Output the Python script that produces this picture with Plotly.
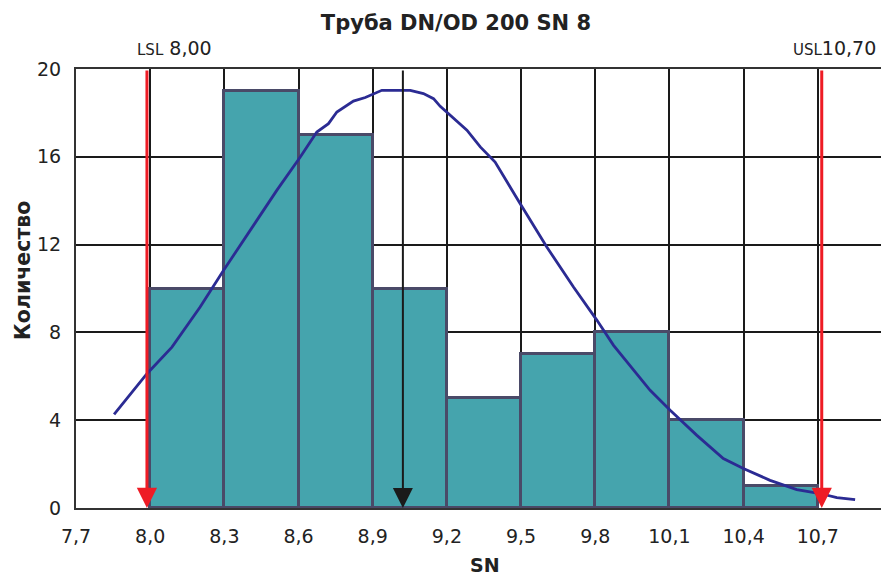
import plotly.graph_objects as go

# Histogram bins (left edges) and counts
bin_left = [8.0, 8.3, 8.6, 8.9, 9.2, 9.5, 9.8, 10.1, 10.4]
counts = [10, 19, 17, 10, 5, 7, 8, 4, 1]
bin_width = 0.3

# Fitted curve
curve_x = [7.854, 7.987, 8.088, 8.202, 8.297, 8.405, 8.512, 8.607, 8.674, 8.721,
           8.755, 8.822, 8.870, 8.937, 9.052, 9.105, 9.146, 9.173, 9.206, 9.281,
           9.335, 9.395, 9.496, 9.604, 9.712, 9.807, 9.874, 10.022, 10.103, 10.211,
           10.318, 10.399, 10.507, 10.615, 10.710, 10.777, 10.851]
curve_y = [4.26, 6.12, 7.33, 9.16, 10.83, 12.65, 14.47, 15.99, 17.13, 17.51,
           18.04, 18.54, 18.70, 19.03, 19.03, 18.88, 18.65, 18.30, 17.97, 17.21,
           16.45, 15.76, 13.87, 11.89, 10.07, 8.55, 7.41, 5.36, 4.45, 3.31,
           2.25, 1.80, 1.26, 0.84, 0.66, 0.47, 0.38]

# Specification limits and mean
lsl_pos = 7.987
usl_pos = 10.716
mean_pos = 9.022
lsl_label = "8,00"
usl_label = "10,70"

x_tickvals = [7.7, 8.0, 8.3, 8.6, 8.9, 9.2, 9.5, 9.8, 10.1, 10.4, 10.7]
x_ticktext = ["7,7", "8,0", "8,3", "8,6", "8,9", "9,2", "9,5", "9,8", "10,1", "10,4", "10,7"]
y_tickvals = [0, 4, 8, 12, 16, 20]

FONT = "DejaVu Sans"
TXT = "#222222"

fig = go.Figure()
fig.add_trace(go.Bar(
    x=[b + bin_width / 2 for b in bin_left], y=counts, width=bin_width,
    marker=dict(color="#45A4AD", line=dict(color="#4A4A68", width=3)),
    showlegend=False, hoverinfo="skip",
))
fig.add_trace(go.Scatter(
    x=curve_x, y=curve_y, mode="lines",
    line=dict(color="#2B2B93", width=2.8),
    showlegend=False, hoverinfo="skip",
))

for pos, col, w in [(lsl_pos, "#EE1C25", 3), (usl_pos, "#EE1C25", 3), (mean_pos, "#1A1A1A", 2)]:
    fig.add_annotation(x=pos, y=0, ax=pos, ay=20, xref="x", yref="y", axref="x", ayref="y",
                       text="", showarrow=True, arrowhead=2, arrowsize=1.35 if w == 3 else 2.0,
                       arrowwidth=w, arrowcolor=col, standoff=0)

# LSL / USL labels
fig.add_annotation(x=lsl_pos, y=1, xref="x", yref="paper", yanchor="bottom", xanchor="left",
                   yshift=8, xshift=-12,
                   text="<span style='font-size:15px'>LSL</span> " + lsl_label,
                   showarrow=False, font=dict(family=FONT, size=19, color=TXT))
fig.add_annotation(x=usl_pos, y=1, xref="x", yref="paper", yanchor="bottom", xanchor="left",
                   yshift=8, xshift=-31,
                   text="<span style='font-size:15px'>USL</span>" + usl_label,
                   showarrow=False, font=dict(family=FONT, size=19, color=TXT))

# Axis titles
fig.add_annotation(x=0, y=0.54, xref="paper", yref="paper", xanchor="center", yanchor="middle",
                   xshift=-53, textangle=-90, text="<b>Количество</b>", showarrow=False,
                   font=dict(family=FONT, size=20.5, color=TXT))
fig.add_annotation(x=0.503, y=0, xref="paper", yref="paper", xanchor="center", yanchor="middle",
                   yshift=-57, text="<b>SN</b>", showarrow=False,
                   font=dict(family=FONT, size=19, color=TXT))

# page body has an 8px margin, so the figure is sized/offset to land like the reference
fig.update_layout(
    width=881, height=568,
    margin=dict(l=68, r=0, t=61, b=68, autoexpand=False),
    paper_bgcolor="white", plot_bgcolor="white",
    font=dict(family=FONT, color=TXT),
    title=dict(text="<b>Труба DN/OD 200 SN 8</b>", x=0.5085, xanchor="center",
               y=0.9736, yanchor="middle", font=dict(family=FONT, size=21, color=TXT)),
    bargap=0,
)
fig.update_xaxes(
    range=[7.7, 10.988], tickvals=x_tickvals, ticktext=x_ticktext,
    showgrid=True, gridcolor="#1a1a1a", gridwidth=1.5,
    showline=True, linecolor="#333333", linewidth=2, mirror=True,
    ticks="outside", ticklen=10, tickcolor="rgba(0,0,0,0)",
    tickfont=dict(family=FONT, size=19, color=TXT),
    zeroline=False, automargin=False,
)
fig.update_yaxes(
    range=[0, 20], tickvals=y_tickvals,
    showgrid=True, gridcolor="#1a1a1a", gridwidth=1.5,
    showline=True, linecolor="#333333", linewidth=2,
    ticks="outside", ticklen=9, tickcolor="rgba(0,0,0,0)",
    tickfont=dict(family=FONT, size=19, color=TXT),
    zeroline=False, automargin=False,
)

fig.write_html("out.html")
